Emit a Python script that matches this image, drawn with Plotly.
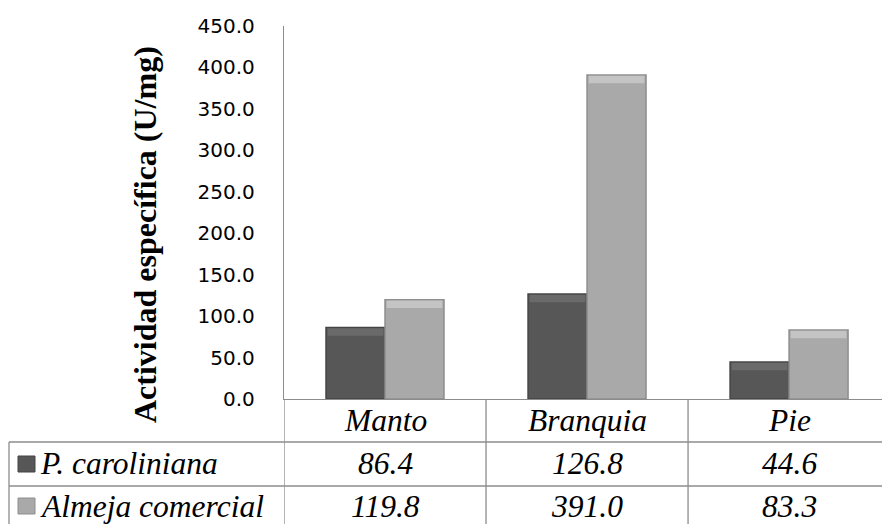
import plotly.graph_objects as go

# Specific enzyme activity per tissue (U/mg)
categories = ["Manto", "Branquia", "Pie"]
series_names = ["P. caroliniana", "Almeja comercial"]
p_caroliniana = [86.4, 126.8, 44.6]
almeja_comercial = [119.8, 391.0, 83.3]
y_tick_values = [0, 50, 100, 150, 200, 250, 300, 350, 400, 450]

series_values = [p_caroliniana, almeja_comercial]
fill_colors = ["#575757", "#a9a9a9"]
edge_colors = ["#444444", "#8e8e8e"]
bevel_colors = ["#6a6a6a", "#c4c4c4"]
bar_offsets = [-0.292, 0.0]
bar_width = 0.292
bevel_depth = 9.0   # height of the lighter bevelled cap, in data units
bevel_inset = 0.008  # keeps the cap inside the column outline
grid_gray = "#8c8c8c"
serif = "Liberation Serif, Times New Roman, Times, serif"

W, H = 882, 524
L, R, T, B = 284, 0, 26, 125
plot_w = W - L - R
plot_h = H - T - B


def paper_x(px):
    return (px - L) / plot_w


def paper_y(py):
    return (H - B - py) / plot_h


fig = go.Figure()
for name, vals, fc, ec, bc, off in zip(series_names, series_values, fill_colors,
                                       edge_colors, bevel_colors, bar_offsets):
    fig.add_trace(go.Bar(
        x=categories, y=vals, name=name, offset=off, width=bar_width,
        marker=dict(color=fc, line=dict(color=ec, width=1.5)),
        showlegend=False,
    ))
    # lighter cap giving the bevelled look at the top of each column
    fig.add_trace(go.Bar(
        x=categories, y=[bevel_depth] * len(vals),
        base=[v - bevel_depth - 1.0 for v in vals],
        offset=off + bevel_inset, width=bar_width - 2 * bevel_inset,
        marker=dict(color=bc, line=dict(width=0)),
        showlegend=False, hoverinfo="skip",
    ))

shapes = []
# table grid: column dividers below the category axis
for xc in [-0.5, 0.5, 1.5]:
    shapes.append(dict(type="line", xref="x", yref="paper",
                       x0=xc, x1=xc, y0=0, y1=paper_y(H + 10),
                       line=dict(color=grid_gray, width=1.3)))
# row separators and left border of the data table
for py in [442, 486]:
    shapes.append(dict(type="line", xref="paper", yref="paper",
                       x0=paper_x(9), x1=1, y0=paper_y(py), y1=paper_y(py),
                       line=dict(color=grid_gray, width=1.3)))
shapes.append(dict(type="line", xref="paper", yref="paper",
                   x0=paper_x(9), x1=paper_x(9), y0=paper_y(442), y1=paper_y(H + 10),
                   line=dict(color=grid_gray, width=1.3)))

annotations = []
table_font = dict(family=serif, size=31.5, color="#000000", style="italic")
# category header row
for i, cat in enumerate(categories):
    annotations.append(dict(xref="x", yref="paper", x=i, y=paper_y(420),
                            text=cat, showarrow=False,
                            xanchor="center", yanchor="middle", font=table_font))
# series rows with legend keys
row_centers = [464, 506]
for name, vals, fc, ec, yc in zip(series_names, series_values, fill_colors, edge_colors, row_centers):
    shapes.append(dict(type="rect", xref="paper", yref="paper",
                       x0=paper_x(18), x1=paper_x(35),
                       y0=paper_y(yc - 8), y1=paper_y(yc + 8),
                       fillcolor=fc, line=dict(color=ec, width=1)))
    annotations.append(dict(xref="paper", yref="paper", x=paper_x(38), y=paper_y(yc),
                            text=name, showarrow=False,
                            xanchor="left", yanchor="middle", font=table_font))
    for i, v in enumerate(vals):
        annotations.append(dict(xref="x", yref="paper", x=i, y=paper_y(yc),
                                text=f"{v:.1f}", showarrow=False,
                                xanchor="center", yanchor="middle", font=table_font))

# vertical axis title
annotations.append(dict(xref="paper", yref="paper", x=paper_x(145), y=paper_y(235),
                        text="Actividad específica (U/mg)", textangle=-90,
                        showarrow=False, xanchor="center", yanchor="middle",
                        font=dict(family=serif, size=32, color="#000000", weight="bold")))

fig.update_layout(
    width=W, height=H,
    margin=dict(l=L, r=R, t=T, b=B, pad=0),
    paper_bgcolor="white", plot_bgcolor="white",
    barmode="overlay",
    shapes=shapes, annotations=annotations,
    xaxis=dict(range=[-0.5, 2.46], showticklabels=False, ticks="",
               showline=True, linecolor=grid_gray, linewidth=1.3,
               showgrid=False, zeroline=False, fixedrange=True),
    yaxis=dict(range=[0, 450], tickvals=y_tick_values, tickformat=".1f",
               tickfont=dict(family="DejaVu Sans", size=20, color="#000000"),
               ticks="", ticklabelstandoff=24,
               showline=True, linecolor=grid_gray, linewidth=1.3,
               showgrid=False, zeroline=False, fixedrange=True),
)

fig.write_html("out.html", config={"displayModeBar": False})
